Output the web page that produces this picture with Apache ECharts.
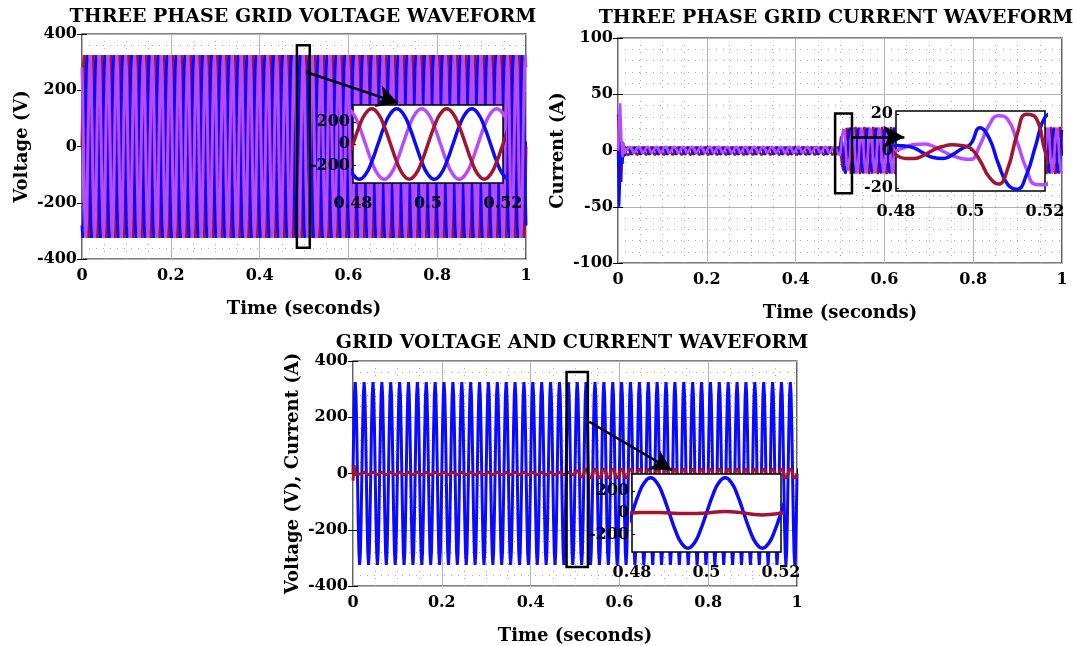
<!DOCTYPE html>
<html>
<head>
<meta charset="utf-8">
<script src="https://cdn.jsdelivr.net/npm/echarts@6/dist/echarts.min.js"></script>
<style>
  html, body { margin: 0; padding: 0; background: #fff; }
  #chart { width: 1073px; height: 646px; }
</style>
</head>
<body>
<div id="chart"></div>
<script>
// one 20 ms cycle of each grid voltage phase, 12 samples
const voltageA = [0, 163, 281, 325, 281, 163, 0, -163, -281, -325, -281, -163]; // red
const voltageB = [-281, -325, -281, -163, 0, 163, 281, 325, 281, 163, 0, -163]; // blue
const voltageC = [281, 163, 0, -163, -281, -325, -281, -163, 0, 163, 281, 325]; // purple

// grid currents, sampled every 2.5 ms
// start-up transient 0 .. 0.0175 s
const currentStartA = [32, 12, -24, -28, 8, -6, 4, -3];
const currentStartB = [0, -50, -22, 8, -12, 4, -5, 2];
const currentStartC = [0, 28, 42, 12, -6, 7, -3, 2];
// light load cycle (read at 0.48 .. 0.4975 s)
const currentLowA = [-2, -4, -4, -2.2, 0.5, 2.4, 3.3, 3];
const currentLowB = [3, 2.7, 1.5, -1.3, -3.5, -4, -2.2, 1.1];
const currentLowC = [0, 2, 3.5, 3.7, 2.5, 0, -2.5, -4];
// load step 0.50 .. 0.5175 s
const currentStepA = [1.5, -5, -14, -17.8, -9.5, 8.8, 19.8, 18];
const currentStepB = [3.7, 12.5, 7, -7, -18, -20.5, -13, 3];
const currentStepC = [-4.5, 3, 14, 19, 17, 5, -9.5, -18];
// full load cycle from 0.52 s
const currentHighA = [0, -14.8, -21, -14.8, 0, 14.8, 21, 14.8];
const currentHighB = [18.2, 20.3, 10.5, -5.4, -18.2, -20.3, -10.5, 5.4];
const currentHighC = [-18.2, -5.4, 10.5, 20.3, 18.2, 5.4, -10.5, -20.3];

// phase current shown with its voltage (bottom panel)
const lineCurrentStart = [-25, 30, -8, 6, -4, 3, -2, 1];
const lineCurrentLow = [0, 3.5, 5, 3.5, 0, -3.5, -5, -3.5];
const lineCurrentStep = [0, 9, 15, 10, 0, -12, -18, -12];
const lineCurrentHigh = [0, 14.8, 21, 14.8, 0, -14.8, -21, -14.8];

const timeTicks = [0, 0.2, 0.4, 0.6, 0.8, 1];
const insetTicks = [0.48, 0.5, 0.52];
const insetVoltTicks = [-200, 0, 200];
const insetCurrTicks = [-20, 0, 20];

const VOLT_STEP = 0.02 / 12;
const CUR_STEP = 0.0025;

const RED = "#a2142f";
const BLUE = "#0a0aff";
const PURPLE = "#b74bff";
const FONT = "DejaVu Serif";

function tile(samples, start, end, step) {
  const n = Math.round((end - start) / step);
  const pts = [];
  for (let i = 0; i < n; i++) {
    pts.push([+(start + i * step).toFixed(5), samples[i % samples.length]]);
  }
  return pts;
}

function currentTrace(start, low, step, high) {
  return [
    ...tile(start, 0, 0.02, CUR_STEP),
    ...tile(low, 0.02, 0.5, CUR_STEP),
    ...tile(step, 0.5, 0.52, CUR_STEP),
    ...tile(high, 0.52, 1 + CUR_STEP, CUR_STEP),
  ];
}

const vA = tile(voltageA, 0, 1 + VOLT_STEP, VOLT_STEP);
const vB = tile(voltageB, 0, 1 + VOLT_STEP, VOLT_STEP);
const vC = tile(voltageC, 0, 1 + VOLT_STEP, VOLT_STEP);
const iA = currentTrace(currentStartA, currentLowA, currentStepA, currentHighA);
const iB = currentTrace(currentStartB, currentLowB, currentStepB, currentHighB);
const iC = currentTrace(currentStartC, currentLowC, currentStepC, currentHighC);
const iLine = currentTrace(lineCurrentStart, lineCurrentLow, lineCurrentStep, lineCurrentHigh);

const text = { color: "#000", fontFamily: FONT, fontWeight: "bold", fontSize: 16 };
const nameText = { ...text, fontSize: 18 };

const mainGrids = [
  { left: 82, top: 34, width: 444, height: 225 },
  { left: 618, top: 38, width: 444, height: 225 },
  { left: 353, top: 361, width: 444, height: 225 },
];
const insetGrids = [
  { left: 353, top: 105, width: 150, height: 78 },
  { left: 896, top: 111, width: 149, height: 80 },
  { left: 632, top: 474, width: 149, height: 78 },
];

const yRanges = [
  { min: -400, max: 400, interval: 200, name: "Voltage (V)" },
  { min: -100, max: 100, interval: 50, name: "Current (A)" },
  { min: -400, max: 400, interval: 200, name: "Voltage (V), Current (A)" },
];
const insetY = [
  { min: -360, max: 360, ticks: insetVoltTicks },
  { min: -21.5, max: 21.5, ticks: insetCurrTicks },
  { min: -360, max: 360, ticks: insetVoltTicks },
];

const tick = { inside: true, length: 5, lineStyle: { color: "#000" } };

const xAxis = [];
const yAxis = [];
mainGrids.forEach((g, i) => {
  xAxis.push({
    type: "value", gridIndex: i, min: 0, max: 1, interval: 0.2,
    name: "Time (seconds)", nameLocation: "middle", nameGap: 41, nameTextStyle: nameText,
    axisLine: { show: false }, axisTick: tick,
    axisLabel: { ...text, margin: 9, customValues: timeTicks },
    splitLine: { show: true, lineStyle: { color: "#b4b4b4", width: 1 } },
    minorTick: { show: false, splitNumber: 4 },
    minorSplitLine: { show: true, lineStyle: { color: "#a8a8a8", width: 1, type: [1, 6] } },
  });
  yAxis.push({
    type: "value", gridIndex: i, min: yRanges[i].min, max: yRanges[i].max, interval: yRanges[i].interval,
    name: yRanges[i].name, nameLocation: "middle", nameGap: 51, nameTextStyle: nameText,
    axisLine: { show: false }, axisTick: tick,
    axisLabel: { ...text, margin: 5 },
    splitLine: { show: true, lineStyle: { color: "#b4b4b4", width: 1 } },
    minorTick: { show: false, splitNumber: 5 },
    minorSplitLine: { show: true, lineStyle: { color: "#a8a8a8", width: 1, type: [1, 6] } },
  });
});
// ticks on the top and right edges of each box
mainGrids.forEach((g, i) => {
  xAxis.push({
    type: "value", gridIndex: i, position: "top", min: 0, max: 1, interval: 0.2,
    axisLine: { show: false }, axisLabel: { show: false }, axisTick: tick, splitLine: { show: false },
  });
  yAxis.push({
    type: "value", gridIndex: i, position: "right", min: yRanges[i].min, max: yRanges[i].max,
    interval: yRanges[i].interval,
    axisLine: { show: false }, axisLabel: { show: false }, axisTick: tick, splitLine: { show: false },
  });
});
insetGrids.forEach((g, i) => {
  xAxis.push({
    type: "value", gridIndex: 3 + i, min: 0.48, max: 0.52, z: 6,
    axisLine: { show: false },
    axisTick: { show: true, inside: true, length: 3, lineStyle: { color: "#000" }, customValues: insetTicks },
    axisLabel: { ...text, margin: 13, customValues: insetTicks },
    splitLine: { show: false },
  });
  yAxis.push({
    type: "value", gridIndex: 3 + i, min: insetY[i].min, max: insetY[i].max, z: 6,
    axisLine: { show: false },
    axisTick: { show: true, inside: true, length: 3, lineStyle: { color: "#000" }, customValues: insetY[i].ticks },
    axisLabel: { ...text, margin: 3, customValues: insetY[i].ticks },
    splitLine: { show: false },
  });
});

const grid = [
  ...mainGrids.map((g) => ({ ...g, show: true, borderColor: "#000", borderWidth: 1.2, backgroundColor: "transparent" })),
  ...insetGrids.map((g) => ({ ...g, show: true, borderColor: "#000", borderWidth: 1.5, backgroundColor: "#fff", z: 5 })),
];

function line(data, color, width, axis, z, smooth) {
  return {
    type: "line", data, xAxisIndex: axis, yAxisIndex: axis, z,
    showSymbol: false, symbol: "none", smooth: smooth || false,
    silent: true, animation: false, emphasis: { disabled: true },
    lineStyle: { color, width },
  };
}

// zoom boxes and arrows, in data coordinates of each main panel
const zoomBoxes = [
  [[0.484, 360], [0.513, -360]],
  [[0.489, 33], [0.527, -38]],
  [[0.481, 361], [0.529, -332]],
];
const zoomArrows = [
  [[0.5045, 265], [0.712, 155]],
  [[0.527, 12], [0.645, 12]],
  [[0.532, 184], [0.718, 12]],
];

const annotations = [];
zoomBoxes.forEach((b, i) => {
  annotations.push({
    type: "line", data: [], xAxisIndex: i, yAxisIndex: i, silent: true, animation: false,
    markArea: {
      z: 3, silent: true, label: { show: false },
      itemStyle: { color: "rgba(0,0,0,0)", borderColor: "#000", borderWidth: 2.5 },
      data: [[{ coord: b[0] }, { coord: b[1] }]],
    },
  });
  annotations.push({
    type: "line", data: [], xAxisIndex: i, yAxisIndex: i, silent: true, animation: false,
    markLine: {
      z: 8, silent: true, animation: false, symbol: ["none", "arrow"], symbolSize: [17, 21],
      label: { show: false }, lineStyle: { color: "#000", width: 2.5, type: "solid" },
      data: [[{ coord: zoomArrows[i][0] }, { coord: zoomArrows[i][1] }]],
    },
  });
});

const titles = [
  { x: 303, y: 17, t: "THREE PHASE GRID VOLTAGE WAVEFORM" },
  { x: 836, y: 18, t: "THREE PHASE GRID CURRENT WAVEFORM" },
  { x: 572, y: 343, t: "GRID VOLTAGE AND CURRENT WAVEFORM" },
];

const option = {
  animation: false,
  backgroundColor: "#fff",
  grid,
  xAxis,
  yAxis,
  graphic: titles.map((d) => ({
    type: "text", x: d.x, y: d.y, z: 10, silent: true,
    style: { text: d.t, fill: "#000", font: `bold 19px "${FONT}"`, align: "center", verticalAlign: "middle" },
  })),
  series: [
    // panel 1
    line(vA, RED, 3, 0, 2),
    line(vB, BLUE, 3, 0, 2),
    line(vC, PURPLE, 3, 0, 2),
    // panel 2
    line(iA, RED, 2.5, 1, 2),
    line(iB, BLUE, 2.5, 1, 2),
    line(iC, PURPLE, 2.5, 1, 2),
    // panel 3
    line(vA, BLUE, 3, 2, 2),
    line(iLine, RED, 3, 2, 2),
    ...annotations,
    // insets
    line(vC, PURPLE, 3.5, 6, 6, true),
    line(vB, BLUE, 3.5, 6, 6, true),
    line(vA, RED, 3.5, 6, 6, true),
    line(iC, PURPLE, 3.5, 7, 6, true),
    line(iB, BLUE, 3.5, 7, 6, true),
    line(iA, RED, 3.5, 7, 6, true),
    line(vA, BLUE, 3.5, 8, 6, true),
    line(iLine, RED, 3.5, 8, 6, true),
  ],
};

echarts.init(document.getElementById("chart")).setOption(option);
</script>
</body>
</html>
